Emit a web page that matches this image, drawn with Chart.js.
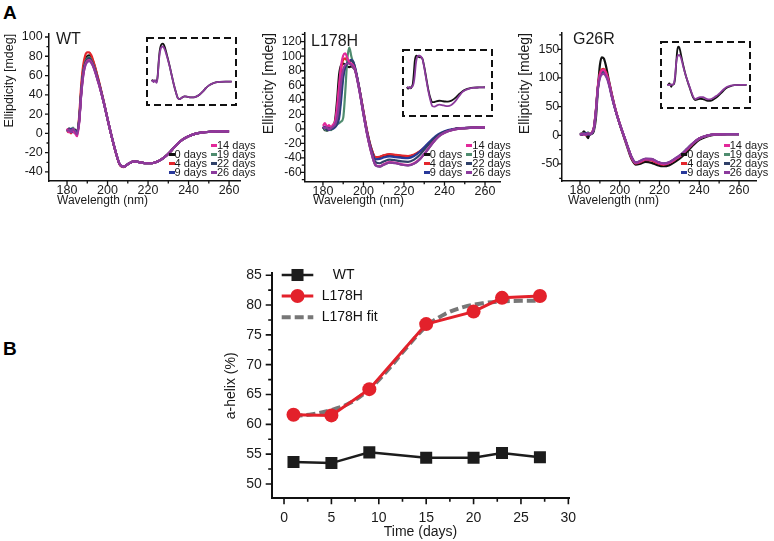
<!DOCTYPE html>
<html>
<head>
<meta charset="utf-8">
<title>CD spectra and helix content</title>
<script src="https://cdn.jsdelivr.net/npm/chart.js@4.4.1/dist/chart.umd.min.js"></script>
<style>
  html, body { margin: 0; padding: 0; background: #fff; }
  #fig { position: relative; width: 774px; height: 541px; overflow: hidden;
         font-family: "Liberation Sans", Arial, Helvetica, sans-serif; color: #1a1a1a; }
  #fig canvas, #fig .t, #fig .dash { position: absolute; }
  .t { white-space: nowrap; line-height: 1; }
  .panel { font-size: 19px; font-weight: bold; color: #000; }
  .name { font-size: 16px; }
  .xt { font-size: 12px; }
  .lg { font-size: 11px; }
  .dash { width: 6px; height: 3px; }
</style>
</head>
<body>
<div id="fig">
  <div class="t panel" style="left:3px;top:3px">A</div>
  <div class="t panel" style="left:3px;top:339px">B</div>

  <canvas id="cWT" width="250" height="180" style="left:0;top:20px"></canvas>
  <canvas id="cLH" width="255" height="180" style="left:255px;top:20px"></canvas>
  <canvas id="cGR" width="262" height="180" style="left:512px;top:20px"></canvas>

  <canvas id="iWT" width="91" height="69" style="left:146px;top:37px"></canvas>
  <canvas id="iLH" width="91" height="68" style="left:402px;top:49px"></canvas>
  <canvas id="iGR" width="91" height="68" style="left:660px;top:41px"></canvas>

  <div class="t name" style="left:56px;top:31px">WT</div>
  <div class="t name" style="left:311px;top:33px">L178H</div>
  <div class="t name" style="left:573px;top:31px">G26R</div>

  <div class="t xt" style="left:57px;top:194px">Wavelength (nm)</div>
  <div class="t xt" style="left:313px;top:194px">Wavelength (nm)</div>
  <div class="t xt" style="left:568px;top:194px">Wavelength (nm)</div>

  <canvas id="cB" width="420" height="286" style="left:180px;top:255px"></canvas>
</div>

<script>
const FONT = '"Liberation Sans", Arial, Helvetica, sans-serif';

const wavelength = [180,181,182,183,184,185,186,187,188,189,190,191,192,193,194,195,196,198,200,202,204,206,208,210,213,216,219,222,225,228,231,234,237,240,244,248,254,260];

const days = ['0 days', '4 days', '9 days', '14 days', '19 days', '22 days', '26 days'];
const dayColors = ['#111111', '#e3262c', '#28389a', '#e2299a', '#4f8c6f', '#2f4068', '#8b3a9c'];
const dayOrder = [6, 5, 3, 1, 4, 2, 0]; // 26 days drawn on top

// WT ellipticity (mdeg)
const wt0  = [3,5,2,3,4,1, 15,44,66,76,80,81,79,74,67,59,51, 34,15,-3,-19,-32,-34.5,-32,-29,-30,-31,-31,-29,-25,-19,-12,-6.5,-3,0,1.2,2,2];
const wt4  = [1,3,0,4,1,0, 18,50,71,81,84,84,81,75,68,60,52, 34,15,-3,-19.5,-32.5,-35,-32,-29,-30,-31,-31,-29,-25,-19,-12,-6.5,-3,0,1.2,2,2];
const wt9  = [4,2,5,1,3,0, 13,41,62,72,76,77,75,70,64,57,50, 33,15,-3,-19,-32,-34.5,-32,-29,-30,-31,-31,-29,-25,-19,-12,-6.5,-3,0,1.2,2,2];
const wt14 = [5,1,3,2,0,-3, 11,40,60,71,75,76,74,69,63,56,49, 33,15,-3,-19,-32,-34.5,-32,-29,-30,-31,-31,-29,-25,-19,-12,-6.5,-3,0,1.2,2,2];
const wt19 = [3,2,4,6,1,2, 14,43,64,74,78,79,76,71,65,57,50, 33,15,-3,-19,-32,-34.5,-32,-29,-30,-31,-31,-29,-25,-19,-12,-6.5,-3,0,1.2,2,2];
const wt22 = [2,5,3,4,0,1, 13,42,63,73,77,78,75,70,64,57,50, 33,15,-3,-19,-32,-34.5,-32,-29,-30,-31,-31,-29,-25,-19,-12,-6.5,-3,0,1.2,2,2];
const wt26 = [2,4,1,5,2,-1, 12,40,60,70,74,75,73,69,63,56,49, 33,15,-3,-19,-32,-34.5,-32,-29,-30,-31,-31,-29,-25,-19,-12,-6.5,-3,0,1.2,2,2];

// L178H ellipticity (mdeg)
const lh0  = [3,-2,0,2,-1,4, 12,40,75,88,90,88,86,85,86,84,80, 55,24,-6,-28,-39.5,-39,-37,-35.5,-36.5,-37.5,-38,-36,-31,-24,-16,-9,-4.5,-1,0.8,1.5,2];
const lh4  = [2,1,-3,0,3,1, 8,25,55,82,95,97,93,90,88,85,80, 55,24,-6,-28,-39,-38.5,-36.5,-35,-36,-37,-37.5,-35.5,-30.5,-23.5,-15.5,-9,-4.5,-1,0.8,1.5,2];
const lh9  = [1,3,0,-2,2,0, 2,6,15,40,70,85,90,93,95,92,83, 55,22,-8,-30,-42,-41.5,-39.5,-38,-39,-40,-40.5,-37.5,-31,-22.5,-14,-7.5,-3.5,-0.5,1,1.5,2];
const lh14 = [4,8,3,5,2,6, 10,30,60,88,101,104,98,92,90,87,80, 53,21,-10,-34,-50,-51.5,-49,-46,-47,-49,-50,-47.5,-41,-31,-20,-11,-5.5,-1.5,0.5,1.5,2];
const lh19 = [2,-1,-3,0,-2,1, 4,6,8,10,15,50,95,112,100,90,80, 53,20,-10,-34,-50.5,-52,-49.5,-46.5,-47.5,-49.5,-50.5,-48,-41.5,-31.5,-20.5,-11,-5.5,-1.5,0.5,1.5,2];
const lh22 = [0,2,-2,1,-1,2, 3,8,20,50,75,86,90,93,94,92,82, 54,21,-9,-32,-46,-47.5,-45,-42.5,-43.5,-45,-45.5,-42.5,-35.5,-25.5,-16,-8.5,-4,-1,0.8,1.5,2];
const lh26 = [3,1,2,-1,1,3, 6,15,35,65,82,88,90,90,88,85,79, 52,20,-10,-34,-50.5,-52,-49.5,-46.5,-47.5,-49.5,-50.5,-48,-41.5,-31.5,-20.5,-11,-5.5,-1.5,0.5,1.5,2];

// G26R ellipticity (mdeg)
const gr0  = [2,3,7,2,-5,3, 3,8,30,80,122,136,134,122,105,88,72, 43,19,-2,-23,-42,-51,-50,-46.5,-48,-52,-54,-52,-46,-38,-28,-17,-8,-2,1,2,2];
const gr4  = [2,1,3,0,2,1, 5,14,45,86,108,115,116,111,101,87,71, 43,20,-1,-21,-40,-49,-47.5,-43,-44,-48.5,-51,-48.5,-42,-34.5,-24.5,-14,-6,-1,1.5,2,2];
const gr9  = [3,1,2,4,1,2, 4,13,42,83,104,111,112,107,98,85,69, 42,20,0,-20,-39,-48,-46,-41.5,-42,-47,-50,-47.5,-41,-33.5,-23.5,-13.5,-5.5,-0.5,1.5,2,2];
const gr14 = [1,3,1,2,3,2, 5,13,43,85,106,113,114,109,99,86,70, 43,20,0,-20,-39,-48.5,-46.5,-42,-42.5,-47.5,-50.5,-48,-41.5,-34,-24,-13.5,-5.5,-0.5,1.5,2,2];
const gr19 = [2,4,3,1,5,2, 4,12,41,82,102,109,110,105,97,84,68, 42,20,0,-20,-38,-47.5,-45.5,-41,-41.5,-46.5,-49.5,-47,-40.5,-33,-23,-13,-5.5,-0.5,1.5,2,2];
const gr22 = [2,1,4,2,3,1, 4,13,42,84,105,112,113,108,98,85,69, 42,20,0,-20,-38.5,-48,-46,-41.5,-42,-47,-50,-47.5,-41,-33.5,-23.5,-13.5,-5.5,-0.5,1.5,2,2];
const gr26 = [1,2,3,1,4,2, 4,12,40,80,99,106,107,103,95,82,67, 42,20,0,-20,-38,-47.5,-45,-40.5,-41,-46,-49,-46.5,-40,-33,-23,-13,-5.5,-0.5,1.5,2,2];

// panel B: alpha-helix content (%)
const timeDays = [1, 5, 9, 15, 20, 23, 27];
const helixWT = [53.7, 53.5, 55.3, 54.4, 54.4, 55.2, 54.5];
const helixL178H = [61.6, 61.5, 65.9, 76.8, 78.9, 81.2, 81.5];
const fitDays = [1, 3, 5, 7, 9, 11, 13, 15, 17, 19, 21, 23, 25, 27];
const helixFit = [61.4, 61.7, 62.4, 63.6, 65.9, 69.2, 73.0, 76.4, 78.5, 79.7, 80.3, 80.6, 80.7, 80.7];

// outward major/minor tick marks
const axisTicks = {
  id: 'axisTicks',
  afterDraw(chart, args, o) {
    const ctx = chart.ctx;
    ctx.save();
    ctx.strokeStyle = o.color;
    ctx.lineWidth = o.width;
    ctx.beginPath();
    ['x', 'y'].forEach(id => {
      const s = chart.scales[id];
      const [major, minor] = o[id];
      const first = Math.ceil(s.min / minor - 1e-9) * minor;
      for (let v = first; v <= s.max + 1e-9; v += minor) {
        const isMajor = Math.abs(v / major - Math.round(v / major)) < 1e-6;
        const len = isMajor ? o.major : o.minor;
        const p = s.getPixelForValue(v);
        if (id === 'x') { ctx.moveTo(p, s.top); ctx.lineTo(p, s.top + len); }
        else { ctx.moveTo(s.right - len, p); ctx.lineTo(s.right, p); }
      }
    });
    ctx.stroke();
    ctx.restore();
  }
};

const dashedBox = {
  id: 'dashedBox',
  afterDraw(chart) {
    const ctx = chart.ctx;
    ctx.save();
    ctx.setLineDash([7, 4]);
    ctx.lineWidth = 2;
    ctx.strokeStyle = '#111';
    ctx.strokeRect(1, 1, chart.width - 2, chart.height - 2);
    ctx.restore();
  }
};

function points(xs, ys) {
  return xs.map((x, i) => ({ x: x, y: ys[i] }));
}

function spectrum(id, series, o) {
  new Chart(document.getElementById(id), {
    type: 'line',
    data: {
      datasets: series.map((vals, i) => ({
        label: days[i],
        data: points(wavelength, vals),
        borderColor: dayColors[i],
        borderWidth: 2.2,
        pointRadius: 0,
        cubicInterpolationMode: 'monotone',
        order: dayOrder[i]
      }))
    },
    options: {
      responsive: false,
      animation: false,
      events: [],
      layout: { padding: { top: o.padTop, right: o.padRight, left: 0, bottom: 0 } },
      plugins: {
        legend: { display: false },
        tooltip: { enabled: false },
        axisTicks: { x: [20, 10], y: o.yStep, major: 4, minor: 2.5, width: 1.3, color: '#111' }
      },
      scales: {
        x: {
          type: 'linear', min: o.x[0], max: o.x[1],
          afterFit: s => { s.height = o.xH; },
          grid: { display: false, drawTicks: false },
          border: { display: true, color: '#111', width: 1.5 },
          ticks: { stepSize: 20, includeBounds: false, autoSkip: false, maxRotation: 0, padding: 2.3,
                   color: '#1a1a1a', font: { family: FONT, size: 12.5 } }
        },
        y: {
          min: o.y[0], max: o.y[1],
          afterFit: s => { s.width = o.yW; },
          grid: { display: false, drawTicks: false },
          border: { display: true, color: '#111', width: 1.5 },
          ticks: { stepSize: o.yStep[0], includeBounds: false, autoSkip: false, padding: o.tickPad,
                   color: '#1a1a1a', font: { family: FONT, size: o.tickSize } },
          title: { display: true, text: o.title, align: 'end', color: '#1a1a1a',
                   font: { family: FONT, size: o.titleSize }, padding: { top: o.titlePad, bottom: 0 } }
        }
      }
    },
    plugins: [axisTicks]
  });
}

function inset(id, black, purple, xr, yr) {
  new Chart(document.getElementById(id), {
    type: 'line',
    data: {
      datasets: [
        { data: points(wavelength, purple), borderColor: dayColors[6], borderWidth: 1.8, pointRadius: 0, cubicInterpolationMode: 'monotone', order: 0 },
        { data: points(wavelength, black), borderColor: dayColors[0], borderWidth: 1.8, pointRadius: 0, cubicInterpolationMode: 'monotone', order: 1 }
      ]
    },
    options: {
      responsive: false, animation: false, events: [],
      layout: { padding: 0 },
      plugins: { legend: { display: false }, tooltip: { enabled: false } },
      scales: {
        x: { type: 'linear', display: false, min: xr[0], max: xr[1] },
        y: { display: false, min: yr[0], max: yr[1] }
      }
    },
    plugins: [dashedBox]
  });
}

function dayLegend(axisX) {
  const fig = document.getElementById('fig');
  const rowY = [145, 154, 163.3, 172.3];
  days.forEach((d, i) => {
    const col = i < 3 ? 0 : 1;
    const row = i < 3 ? i + 1 : i - 3;
    const x = axisX + (col ? 162 : 119.5);
    const y = rowY[row];
    const dash = document.createElement('div');
    dash.className = 'dash';
    dash.style.left = x + 'px';
    dash.style.top = (y - 1.5) + 'px';
    dash.style.background = dayColors[i];
    const t = document.createElement('div');
    t.className = 't lg';
    t.textContent = d;
    t.style.left = (x + 6) + 'px';
    t.style.top = (y - 5.4) + 'px';
    fig.append(dash, t);
  });
}

spectrum('cWT', [wt0, wt4, wt9, wt14, wt19, wt22, wt26], {
  x: [171.1, 265.4], y: [-49.4, 103.3], yStep: [20, 10], padTop: 10, padRight: 10, xH: 19, yW: 49,
  tickPad: 6.3, tickSize: 12.5, title: 'Ellipdicity [mdeg]', titleSize: 12.5, titlePad: 2.5
});
spectrum('cLH', [lh0, lh4, lh9, lh14, lh19, lh22, lh26], {
  x: [170.8, 267.4], y: [-72.9, 132], yStep: [20, 10], padTop: 13, padRight: 10, xH: 18.3, yW: 49.3,
  tickPad: 2.6, tickSize: 12, title: 'Ellipticity [mdeg]', titleSize: 14, titlePad: 5.3
});
spectrum('cGR', [gr0, gr4, gr9, gr14, gr19, gr22, gr26], {
  x: [170.8, 268.9], y: [-79.7, 178.4], yStep: [50, 25], padTop: 13, padRight: 17.3, xH: 19, yW: 49.7,
  tickPad: 2.4, tickSize: 12.5, title: 'Ellipticity [mdeg]', titleSize: 14, titlePad: 4.6
});

inset('iWT', wt0, wt26, [174.3, 265.3], [-48.9, 94.6]);
inset('iLH', lh0, lh26, [174.9, 268.2], [-80.6, 108.3]);
inset('iGR', gr0, gr26, [172.6, 264.5], [-82.5, 156.1]);

dayLegend(49);
dayLegend(304.3);
dayLegend(561.7);

// panel B legend: line + marker + label for each series
const helixLegend = {
  id: 'helixLegend',
  afterDraw(chart) {
    const ctx = chart.ctx;
    const rows = [{ y: 20, tx: 152.7 }, { y: 41, tx: 141.7 }, { y: 62.3, tx: 141.7 }];
    ctx.save();
    ctx.font = '14px ' + FONT;
    ctx.textBaseline = 'middle';
    chart.data.datasets.forEach((ds, i) => {
      const r = rows[i];
      ctx.strokeStyle = ds.borderColor;
      ctx.lineWidth = ds.borderWidth;
      ctx.setLineDash(ds.borderDash || []);
      ctx.beginPath();
      ctx.moveTo(101.7, r.y);
      ctx.lineTo(133.3, r.y);
      ctx.stroke();
      ctx.setLineDash([]);
      ctx.fillStyle = ds.borderColor;
      if (ds.pointRadius > 0) {
        if (ds.pointStyle === 'rect') {
          const s = ds.pointRadius * Math.SQRT2;
          ctx.fillRect(117.5 - s / 2, r.y - s / 2, s, s);
        } else {
          ctx.beginPath();
          ctx.arc(117.5, r.y, ds.pointRadius, 0, Math.PI * 2);
          ctx.fill();
        }
      }
      ctx.fillStyle = '#111';
      ctx.fillText(ds.label, r.tx, r.y);
    });
    ctx.restore();
  }
};

new Chart(document.getElementById('cB'), {
  type: 'line',
  data: {
    datasets: [
      { label: 'WT', data: points(timeDays, helixWT), borderColor: '#1c1c1c', backgroundColor: '#1c1c1c',
        borderWidth: 2.5, pointStyle: 'rect', pointRadius: 8.5, pointBorderWidth: 0, order: 2 },
      { label: 'L178H', data: points(timeDays, helixL178H), borderColor: '#e3212b', backgroundColor: '#e3212b',
        borderWidth: 3, pointStyle: 'circle', pointRadius: 7, pointBorderWidth: 0, order: 0 },
      { label: 'L178H fit', data: points(fitDays, helixFit), borderColor: '#777777',
        borderWidth: 4, borderDash: [9, 4], pointRadius: 0, tension: 0.35, order: 1 }
    ]
  },
  options: {
    responsive: false,
    animation: false,
    events: [],
    layout: { padding: { top: 12.7, right: 30.7, left: 0, bottom: 0 } },
    plugins: {
      legend: { display: false },
      tooltip: { enabled: false },
      axisTicks: { x: [5, 2.5], y: [5, 2.5], major: 6, minor: 3.5, width: 1.6, color: '#111' }
    },
    scales: {
      x: {
        type: 'linear', min: -1.3, max: 30.1,
        afterFit: s => { s.height = 42.7; },
        grid: { display: false, drawTicks: false },
        border: { display: true, color: '#111', width: 2 },
        ticks: { stepSize: 5, includeBounds: false, autoSkip: false, maxRotation: 0, padding: 11.5,
                 color: '#1a1a1a', font: { family: FONT, size: 14 } },
        title: { display: true, text: 'Time (days)', color: '#1a1a1a', font: { family: FONT, size: 14 },
                 padding: { top: 0, bottom: 0.5 } }
      },
      y: {
        min: 47.6, max: 85.3,
        afterFit: s => { s.width = 91.7; },
        grid: { display: false, drawTicks: false },
        border: { display: true, color: '#111', width: 2 },
        ticks: { stepSize: 5, includeBounds: false, autoSkip: false, padding: 10,
                 color: '#1a1a1a', font: { family: FONT, size: 14 } },
        title: { display: true, text: 'a-helix (%)', color: '#1a1a1a', font: { family: FONT, size: 14 },
                 padding: { top: 42.6, bottom: 0 } }
      }
    }
  },
  plugins: [axisTicks, helixLegend]
});
</script>
</body>
</html>
